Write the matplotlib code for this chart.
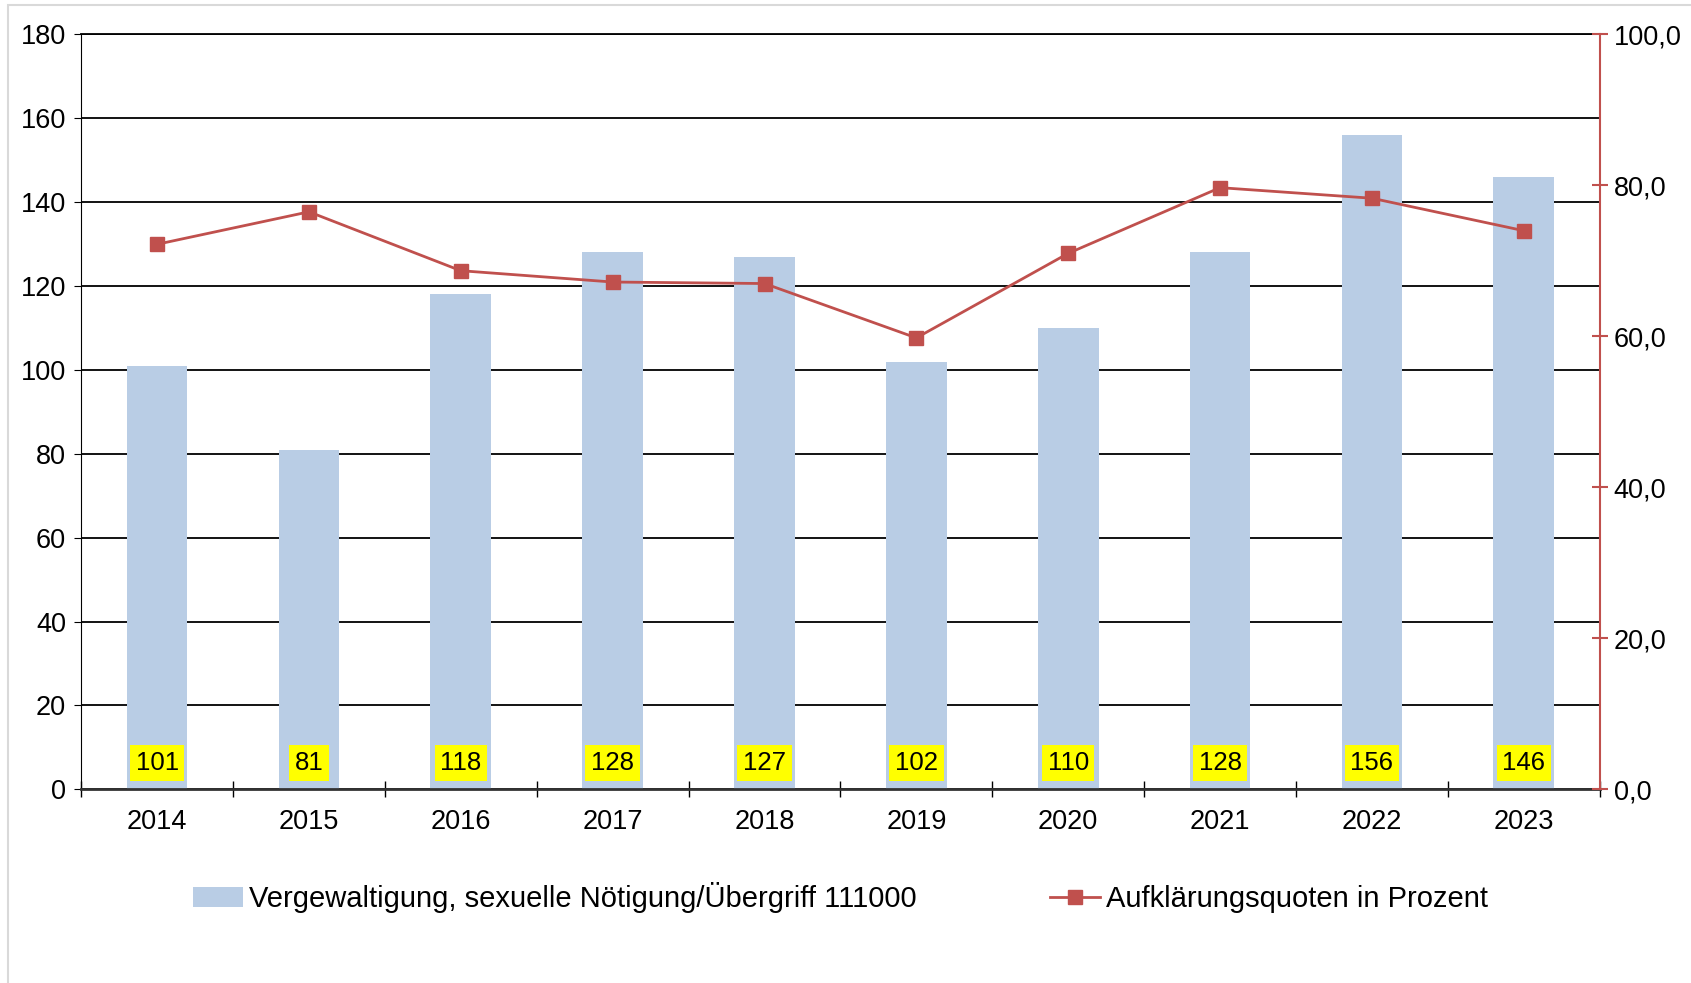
import matplotlib.pyplot as plt
import matplotlib.patches as mpatches
import numpy as np

plt.rcParams['font.family'] = ['Liberation Sans', 'DejaVu Sans']

# Daten
jahre = ["2014", "2015", "2016", "2017", "2018", "2019", "2020", "2021", "2022", "2023"]
faelle = [101, 81, 118, 128, 127, 102, 110, 128, 156, 146]
quote = [72.2, 76.5, 68.7, 67.2, 67.0, 59.8, 71.0, 79.7, 78.3, 74.0]

bar_name = "Vergewaltigung, sexuelle Nötigung/Übergriff 111000"
line_name = "Aufklärungsquoten in Prozent"

fig = plt.figure(figsize=(16.91, 9.83), dpi=100)
ax = fig.add_axes([0.048, 0.197, 0.898, 0.768])

# grauer Rahmen
fig.patches.append(mpatches.Rectangle((0.005, -0.01), 1.0, 1.005, transform=fig.transFigure,
                                      fill=False, edgecolor="#d9d9d9", linewidth=1.5))

x = np.arange(len(jahre))
ax.bar(x, faelle, width=0.4, color="#B9CDE5", zorder=2, label=bar_name)
for xi, v in zip(x, faelle):
    ax.text(xi, 6.3, str(v), ha="center", va="center", fontsize=18.5, zorder=5,
            bbox=dict(boxstyle="square,pad=0.22", facecolor="yellow", edgecolor="none"))

ax.set_xlim(-0.5, len(jahre) - 0.5)
ax.set_ylim(0, 180)
ax.set_yticks(np.arange(0, 181, 20))
ax.yaxis.grid(True, color="black", linewidth=1.3, zorder=1)
ax.set_axisbelow(True)
ax.tick_params(axis="y", labelsize=19.5, length=5, direction="out", pad=6)

# x-Ticks zwischen den Kategorien
ax.set_xticks(x)
ax.set_xticklabels(jahre)
ax.tick_params(axis="x", which="major", length=0, labelsize=19.5, pad=14)
ax.set_xticks(np.arange(-0.5, len(jahre), 1), minor=True)
ax.tick_params(axis="x", which="minor", length=12, direction="inout", width=1)

ax.spines["top"].set_linewidth(1.3)
ax.spines["bottom"].set_linewidth(2)
ax.spines["bottom"].set_color("#333333")
ax.spines["right"].set_visible(False)

ax2 = ax.twinx()
ax2.plot(x, quote, color="#C0504D", linewidth=2, marker="s", markersize=10, zorder=4, label=line_name)
ax2.set_ylim(0, 100)
ax2.set_yticks(np.arange(0, 101, 20))
ax2.set_yticklabels([f"{v},0" for v in range(0, 101, 20)])
ax2.tick_params(axis="y", labelsize=19.5, length=12, direction="inout", color="#C0504D", width=1.5, pad=4)
ax2.spines["right"].set_color("#C0504D")
ax2.spines["right"].set_linewidth(1.5)
for s in ["top", "left", "bottom"]:
    ax2.spines[s].set_visible(False)

h1, l1 = ax.get_legend_handles_labels()
h2, l2 = ax2.get_legend_handles_labels()
fig.legend(h1 + h2, l1 + l2, loc="center", bbox_to_anchor=(0.497, 0.087), ncol=2, frameon=False,
           fontsize=21, handlelength=1.7, handleheight=0.7, handletextpad=0.2, columnspacing=4.6)

plt.savefig("out.png")
